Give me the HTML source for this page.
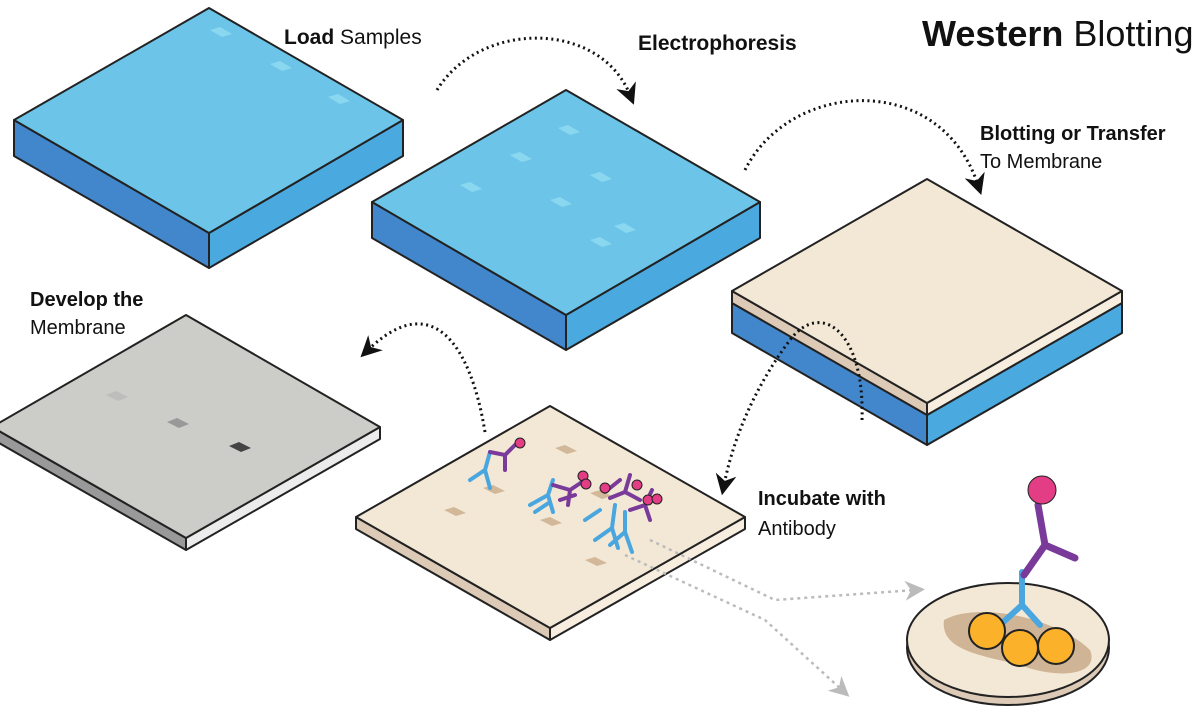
<!DOCTYPE html>
<html><head><meta charset="utf-8"><style>
body{margin:0;background:#fff;width:1200px;height:720px;overflow:hidden}
svg{display:block}
text{font-family:"Liberation Sans",sans-serif;fill:#111}
</style></head><body>
<svg width="1200" height="720" viewBox="0 0 1200 720">
<defs>
<marker id="ah" viewBox="0 0 10 10" refX="5" refY="5" markerWidth="7" markerHeight="7" orient="auto"><path d="M0,0 L10,5 L0,10 L3,5z" fill="#111"/></marker>
<marker id="ag" viewBox="0 0 10 10" refX="5" refY="5" markerWidth="8" markerHeight="8" orient="auto"><path d="M0,0 L10,5 L0,10 L3,5z" fill="#bbb"/></marker>
</defs>
<g stroke="#222" stroke-width="2" stroke-linejoin="round">
<polygon points="14,120 209,233 209,268 14,156" fill="#4286cc"/>
<polygon points="209,233 403,120 403,156 209,268" fill="#4aaae0"/>
<polygon points="209,8 403,120 209,233 14,120" fill="#6cc5e9"/>
<polygon points="372,202 566,315 566,350 372,238" fill="#4286cc"/>
<polygon points="566,315 760,202 760,238 566,350" fill="#4aaae0"/>
<polygon points="566,90 760,202 566,315 372,202" fill="#6cc5e9"/>
<polygon points="732,303 927,415 927,445 732,333" fill="#4286cc"/>
<polygon points="927,415 1122,303 1122,333 927,445" fill="#4aaae0"/>
<polygon points="732,291 927,403 927,415 732,303" fill="#dccab6"/>
<polygon points="927,403 1122,291 1122,303 927,415" fill="#f8eee0"/>
<polygon points="927,179 1122,291 927,403 732,291" fill="#f3e8d6"/>
<polygon points="-8,427 186,538 186,550 -8,439" fill="#999"/>
<polygon points="186,538 380,427 380,439 186,550" fill="#ececec"/>
<polygon points="186,315 380,427 186,538 -8,427" fill="#cccdc8"/>
<polygon points="356,517 550,628 550,640 356,529" fill="#dccab6"/>
<polygon points="550,628 745,517 745,529 550,640" fill="#f8eee0"/>
<polygon points="550,406 745,517 550,628 356,517" fill="#f3e8d6"/>
<ellipse cx="1008" cy="648" rx="101" ry="57" fill="#dccab6"/>
<ellipse cx="1008" cy="640" rx="101" ry="57" fill="#f3e8d6"/>
</g>
<g fill="#8ad8f0">
<polygon points="210,30 220,27 232,34 222,37"/><polygon points="270,64 280,61 292,68 282,71"/><polygon points="328,97 338,94 350,101 340,104"/>
<polygon points="558,128 568,125 580,132 570,135"/><polygon points="510,155 520,152 532,159 522,162"/><polygon points="590,175 600,172 612,179 602,182"/>
<polygon points="460,185 470,182 482,189 472,192"/><polygon points="550,200 560,197 572,204 562,207"/><polygon points="614,226 624,223 636,230 626,233"/><polygon points="590,240 600,237 612,244 602,247"/>
</g>
<polygon points="106,395 116,391 128,397 118,401" fill="#bdbdbb"/>
<polygon points="167,422 177,418 189,424 179,428" fill="#999"/>
<polygon points="229,446 239,442 251,448 241,452" fill="#444"/>
<g fill="#d2b898">
<polygon points="555,448 565,445 577,451 567,454"/><polygon points="444,510 454,507 466,513 456,516"/><polygon points="483,488 493,485 505,491 495,494"/><polygon points="590,493 600,490 612,496 602,499"/><polygon points="585,560 595,557 607,563 597,566"/><polygon points="540,520 550,517 562,523 552,526"/>
</g>
<path d="M944,620 C980,600 1060,620 1090,650 C1100,675 1060,680 1020,665 C980,655 940,650 944,620z" fill="#cfb496"/>
<g stroke-linecap="round" stroke-width="4" fill="none">
<g stroke="#4aa6de"><path d="M470,480 L485,470 L490,488 M485,470 L490,452"/><path d="M530,505 L548,495 L553,512 M548,495 L553,480 M535,512 L550,502"/><path d="M595,540 L612,528 L618,548 M612,528 L615,505 M610,545 L625,532 L632,552 M625,532 L625,512 M585,520 L600,510"/>
<path d="M1022,572 L1022,605 L1000,625 M1022,605 L1040,625" stroke-width="6"/></g>
<g stroke="#7a3a9a"><path d="M490,452 L505,455 L515,445 M505,455 L505,470"/><path d="M553,485 L570,490 L585,480 M570,490 L568,505 M560,500 L575,495"/><path d="M610,498 L625,492 L630,475 M625,492 L640,500 M630,510 L645,505 L652,490 M645,505 L650,520 M620,480 L605,492"/>
<path d="M1024,575 L1045,545 L1038,505 M1045,545 L1075,558" stroke-width="7"/></g>
</g>
<g fill="#e23d85" stroke="#222" stroke-width="1">
<circle cx="520" cy="443" r="5"/><circle cx="583" cy="476" r="5"/><circle cx="586" cy="484" r="5"/><circle cx="605" cy="488" r="5"/><circle cx="637" cy="485" r="5"/><circle cx="648" cy="500" r="5"/><circle cx="657" cy="499" r="5"/>
<circle cx="1042" cy="490" r="14"/></g>
<g fill="#fbb22a" stroke="#222" stroke-width="2"><circle cx="987" cy="631" r="18"/><circle cx="1020" cy="648" r="18"/><circle cx="1056" cy="646" r="18"/></g>
<g fill="none" stroke="#111" stroke-width="3" stroke-dasharray="2 3.5">
<path d="M437,90 C480,20 600,20 630,95" marker-end="url(#ah)"/>
<path d="M745,170 C790,80 940,70 978,185" marker-end="url(#ah)"/>
<path d="M862,420 C865,330 820,300 790,340 C760,380 735,430 724,485" marker-end="url(#ah)"/>
<path d="M485,432 C470,340 430,290 368,350" marker-end="url(#ah)"/>
</g>
<g fill="none" stroke="#bbb" stroke-width="2.5" stroke-dasharray="3 4">
<path d="M650,540 L775,600 L915,590" marker-end="url(#ag)"/>
<path d="M625,555 L765,620 L842,690" marker-end="url(#ag)"/>
</g>
<text x="922" y="46" font-size="36"><tspan font-weight="bold">Western</tspan> Blotting</text>
<text x="284" y="44" font-size="21"><tspan font-weight="bold">Load</tspan> Samples</text>
<text x="638" y="50" font-size="21" font-weight="bold">Electrophoresis</text>
<text x="980" y="140" font-size="20" font-weight="bold">Blotting or Transfer</text>
<text x="980" y="168" font-size="20">To Membrane</text>
<text x="30" y="306" font-size="20" font-weight="bold">Develop the</text>
<text x="30" y="334" font-size="20">Membrane</text>
<text x="758" y="505" font-size="20" font-weight="bold">Incubate with</text>
<text x="758" y="535" font-size="20">Antibody</text>
</svg>
</body></html>
